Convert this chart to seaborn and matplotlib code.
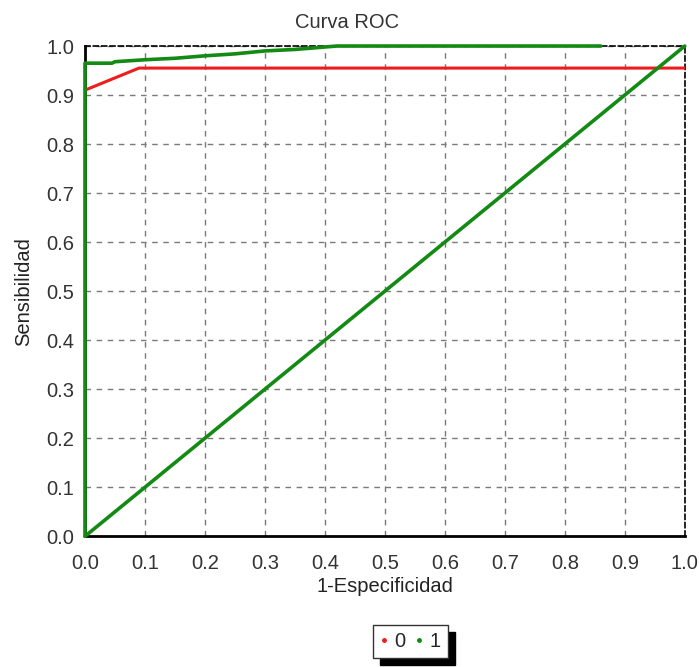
import numpy as np
import pandas as pd
import matplotlib
matplotlib.use("Agg")
import matplotlib.pyplot as plt
import seaborn as sns
from matplotlib.lines import Line2D
from matplotlib.ticker import MultipleLocator

# ── Data ────────────────────────────────────────────────────────────
fpr_0 = [0.0, 0.09, 1.0]
tpr_0 = [0.91, 0.955, 0.955]

fpr_1 = [0.0, 0.0, 0.045, 0.05, 0.10, 0.15, 0.20, 0.25, 0.30, 0.35, 0.42, 0.86]
tpr_1 = [0.0, 0.965, 0.965, 0.968, 0.972, 0.975, 0.98, 0.984, 0.99, 0.993, 1.0, 1.0]

diag_x = [0.0, 1.0]
diag_y = [0.0, 1.0]

ticks = [round(0.1 * i, 1) for i in range(11)]
tick_labels = [f"{t:.1f}" for t in ticks]

RED = "#ee1c1c"
GREEN = "#138a13"
TXT = "#333333"
FS = 14.5

sns.set_style("white")
plt.rcParams["font.family"] = ["Liberation Sans", "DejaVu Sans"]

fig = plt.figure(figsize=(6.99, 6.67), dpi=100)
ax = fig.add_axes([0.1216, 0.196, 0.858, 0.735])

ax.grid(True, which="major", color="#7a7a7a", linestyle=(0, (4, 4)), linewidth=1.0)
ax.set_axisbelow(True)

df0 = pd.DataFrame({"x": fpr_0, "y": tpr_0})
df1 = pd.DataFrame({"x": fpr_1, "y": tpr_1})
dfd = pd.DataFrame({"x": diag_x, "y": diag_y})

sns.lineplot(data=df0, x="x", y="y", sort=False, estimator=None, color=RED,
             linewidth=2.2, ax=ax, zorder=3)
sns.lineplot(data=df1, x="x", y="y", sort=False, estimator=None, color=GREEN,
             linewidth=2.6, ax=ax, zorder=4, clip_on=False)
sns.lineplot(data=dfd, x="x", y="y", sort=False, estimator=None, color=GREEN,
             linewidth=2.6, ax=ax, zorder=4, clip_on=False)

ax.set_xlim(0, 1)
ax.set_ylim(0, 1)
ax.set_xticks(ticks)
ax.set_yticks(ticks)
ax.set_xticklabels(tick_labels, fontsize=FS, color=TXT)
ax.set_yticklabels(tick_labels, fontsize=FS, color=TXT)
ax.xaxis.set_minor_locator(MultipleLocator(0.05))
ax.yaxis.set_minor_locator(MultipleLocator(0.05))
ax.tick_params(which="major", direction="out", length=4, color="#555555")
ax.tick_params(axis="x", which="major", pad=9)
ax.tick_params(axis="y", which="major", pad=4)
ax.tick_params(which="minor", direction="out", length=2, color="#555555")

for side in ["top", "right"]:
    ax.spines[side].set_linestyle((0, (3, 2)))
    ax.spines[side].set_color("black")
    ax.spines[side].set_linewidth(1.2)
for side in ["bottom", "left"]:
    ax.spines[side].set_color("black")
    ax.spines[side].set_linewidth(2.0)
    ax.spines[side].set_visible(True)

ax.set_title("Curva ROC", fontsize=FS, color=TXT, x=0.437, pad=13)
ax.set_xlabel("1-Especificidad", fontsize=FS, color="#222222", labelpad=3)
ax.set_ylabel("Sensibilidad", fontsize=FS, color="#222222", labelpad=9)

handles = [
    Line2D([], [], color=RED, marker=".", linestyle="none", markersize=5),
    Line2D([], [], color=GREEN, marker=".", linestyle="none", markersize=5),
]
leg = fig.legend(handles, ["0", "1"], loc="center", bbox_to_anchor=(0.587, 0.038),
                 ncol=2, frameon=True, fancybox=False,
                 shadow={"color": "black", "alpha": 1, "ox": 5, "oy": -5},
                 edgecolor="#333333", fontsize=FS, handlelength=0.4, handletextpad=0.3,
                 columnspacing=0.5, borderpad=0.35)
leg.get_frame().set_linewidth(1.0)

fig.savefig("out.png", dpi=100)
